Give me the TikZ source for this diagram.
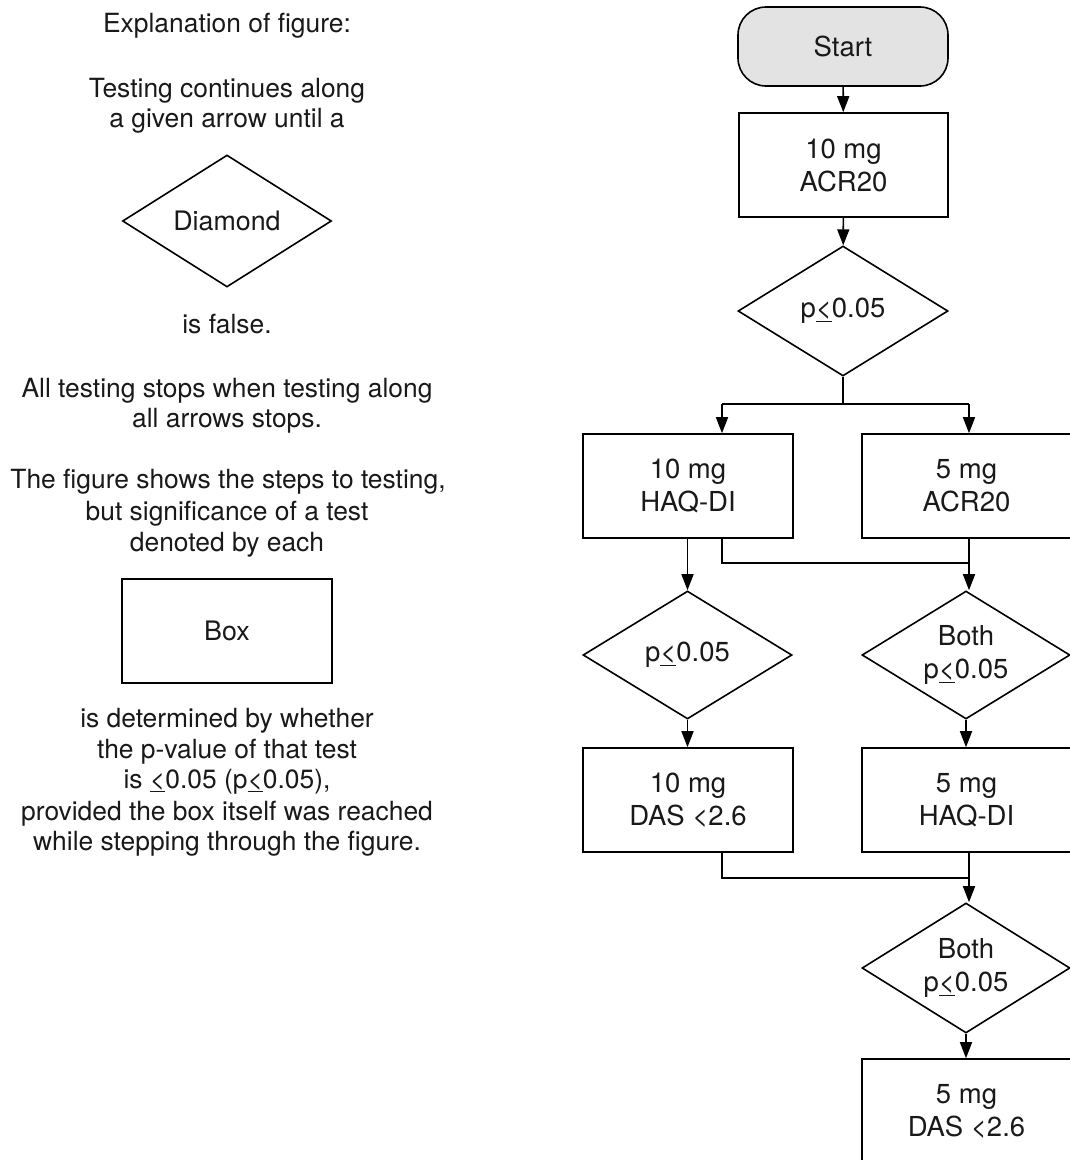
\documentclass[tikz,border=0pt]{standalone}
\usepackage{fontspec}
\setmainfont{TeX Gyre Heros}
\usetikzlibrary{shapes.geometric,arrows.meta}
\newcommand\ulle{\underline{<}}
\begin{document}
\begin{tikzpicture}[x=1pt,y=-1pt,
  line width=1.6pt,
  every node/.style={font=\fontsize{27.5}{33}\selectfont, text=black!90},
  boxnode/.style={draw, rectangle, minimum width=209pt, minimum height=104pt, align=center, inner sep=0pt},
  dianode/.style={draw, diamond, aspect=1.6, minimum width=209pt, minimum height=130pt, align=center, inner sep=0pt},
  startnode/.style={draw, rectangle, rounded corners=28pt, fill=black!11, minimum width=210pt, minimum height=79pt, inner sep=0pt},
  lbl/.style={anchor=base, inner sep=0pt, font=\fontsize{26.4}{31}\selectfont},
  arr/.style={-{Triangle[length=16pt,width=12pt]}}
]
\useasboundingbox[fill=white] (0,0) rectangle (1070,1160);

% ---- legend (left) ----
\node[lbl] (t1) at (227,32) {Explanation of figure:};
\node[lbl] (t2) at (227,97) {Testing continues along};
\node[lbl] (t3) at (227,127) {a given arrow until a};
\node[dianode, minimum width=209pt, minimum height=132pt, font=\fontsize{26.8}{31}\selectfont] (ld) at (227,221) {Diamond};
\node[lbl] (t4) at (227,333) {is false.};
\node[lbl] (t5) at (227,397) {All testing stops when testing along};
\node[lbl] (t6) at (227,427) {all arrows stops.};
\node[lbl] (t7) at (228,488) {The figure shows the steps to testing,};
\node[lbl] (t8) at (227,520) {but significance of a test};
\node[lbl] (t9) at (227,551) {denoted by each};
\node[boxnode, minimum width=210pt, font=\fontsize{26.8}{31}\selectfont] (lb) at (227,631) {Box};
\node[lbl] (t10) at (227,727) {is determined by whether};
\node[lbl] (t11) at (227,758) {the p-value of that test};
\node[lbl] (t12) at (227,788) {is \ulle0.05 (p\ulle0.05),};
\node[lbl] (t13) at (227,820) {provided the box itself was reached};
\node[lbl] (t14) at (227,850) {while stepping through the figure.};

% ---- flowchart (right) ----
\node[startnode] (start) at (843,46.5) {Start};
\node[boxnode] (a10) at (843.5,165) {10 mg\\ACR20};
\node[dianode, minimum width=210pt] (d1) at (843,311) {p\ulle0.05};
\node[boxnode, minimum width=210pt] (h10) at (688,486) {10 mg\\HAQ-DI};
\node[boxnode] (a5) at (966.5,486) {5 mg\\ACR20};
\node[dianode, minimum height=128pt] (d2) at (687.5,655) {p\ulle0.05};
\node[dianode, minimum width=208pt, minimum height=128pt] (d3) at (966,655) {Both\\p\ulle0.05};
\node[boxnode, minimum width=210pt] (das10) at (688,800) {10 mg\\DAS {<}2.6};
\node[boxnode] (h5) at (966.5,800) {5 mg\\HAQ-DI};
\node[dianode, minimum width=208pt] (d4) at (966,968) {Both\\p\ulle0.05};
\node[boxnode] (das5) at (966.5,1111) {5 mg\\DAS {<}2.6};

\coordinate (jL) at (722,404);
\coordinate (jR) at (969,404);
\coordinate (m1) at (722,563);
\coordinate (m2) at (969,563);
\coordinate (b1) at (722,878);
\coordinate (b2) at (969,878);

\draw[arr] (start) -- (a10);
\draw[arr] (a10) -- (d1);
\draw (d1.south) -- (d1.south |- jL);
\draw (jL) -- (jR);
\draw[arr] (jL) -- (jL |- h10.north);
\draw[arr] (jR) -- (jR |- a5.north);
\draw[arr] (h10.south -| d2.north) -- (d2.north);
\draw (m1 |- h10.south) -- (m1) -- (m2);
\draw (m2 |- a5.south) -- (m2);
\draw[arr] (m2) -- (m2 |- d3.north);
\draw[arr] (d2.south) -- (d2.south |- das10.north);
\draw[arr] (d3.south) -- (d3.south |- h5.north);
\draw (b1 |- das10.south) -- (b1) -- (b2);
\draw (b2 |- h5.south) -- (b2);
\draw[arr] (b2) -- (b2 |- d4.north);
\draw[arr] (d4.south) -- (d4.south |- das5.north);
\end{tikzpicture}
\end{document}
